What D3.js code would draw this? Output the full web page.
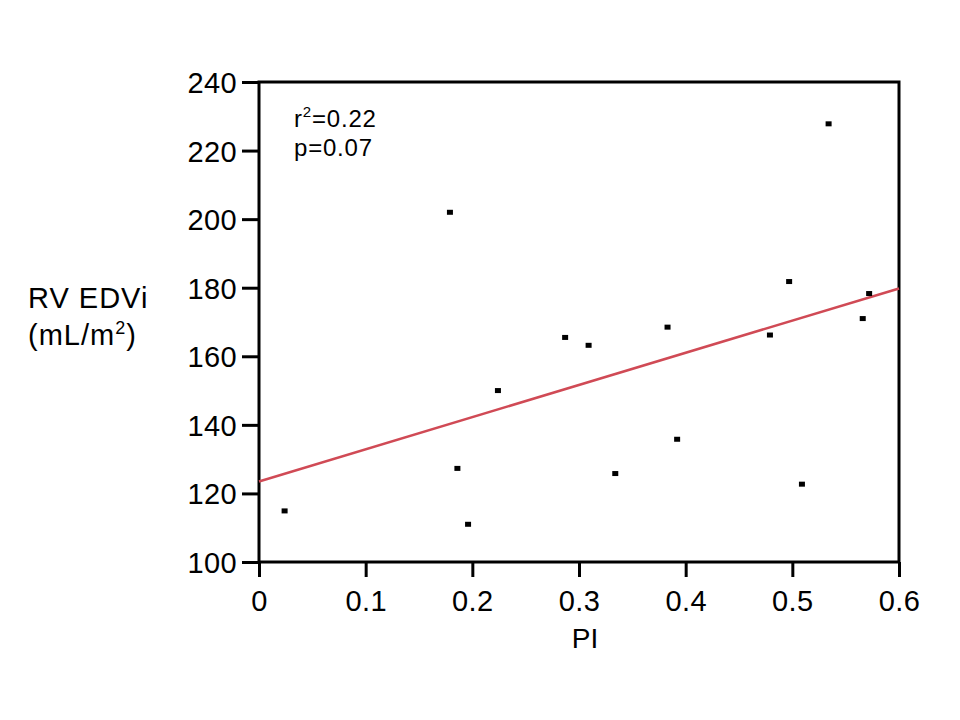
<!DOCTYPE html>
<html>
<head>
<meta charset="utf-8">
<script src="https://cdn.jsdelivr.net/npm/d3@7"></script>
<style>
  body { margin: 0; background: #fff; }
  text { font-family: "Liberation Sans", Arial, sans-serif; fill: #000; }
</style>
</head>
<body>
<svg id="chart" width="960" height="720"></svg>
<script>
// data
let piValues = [0.024, 0.179, 0.186, 0.196, 0.224, 0.287, 0.309, 0.334, 0.383, 0.392, 0.479, 0.497, 0.509, 0.534, 0.566, 0.572];
let edviValues = [114.9, 202.0, 127.3, 111.0, 150.0, 165.5, 163.2, 125.8, 168.5, 135.8, 166.2, 181.8, 122.7, 227.8, 171.0, 178.3];
let xTicks = [0, 0.1, 0.2, 0.3, 0.4, 0.5, 0.6];
let yTicks = [100, 120, 140, 160, 180, 200, 220, 240];
let fitIntercept = 123.5;
let fitSlope = 93.8;

function drawChart() {
    let svg = d3.select("#chart");
    svg.selectAll("*").remove();

    let left = 259, right = 899, top = 82, bottom = 562;

    let x = d3.scaleLinear().domain([0, 0.6]).range([left, right]);
    let y = d3.scaleLinear().domain([100, 240]).range([bottom, top]);

    // frame
    svg.append("rect")
        .attr("x", left)
        .attr("y", top)
        .attr("width", right - left)
        .attr("height", bottom - top)
        .attr("fill", "none")
        .attr("stroke", "#000")
        .attr("stroke-width", 3);

    // axes
    let xAxis = svg.append("g")
        .attr("transform", `translate(0, ${bottom})`)
        .call(d3.axisBottom(x).tickValues(xTicks).tickSize(15).tickPadding(13).tickFormat(d => d === 0 ? "0" : d3.format(".1f")(d)));
    let yAxis = svg.append("g")
        .attr("transform", `translate(${left}, 0)`)
        .call(d3.axisLeft(y).tickValues(yTicks).tickSize(17).tickPadding(5));

    [xAxis, yAxis].forEach(a => {
        a.select(".domain").remove();
        a.selectAll("line").attr("stroke", "#000").attr("stroke-width", 3);
        a.selectAll("text").style("font-size", "29px").style("letter-spacing", "0.4px").attr("fill", "#000");
    });
    yAxis.selectAll("text").attr("dy", "0.36em");

    // regression line
    svg.append("line")
        .attr("x1", x(0))
        .attr("y1", y(fitIntercept))
        .attr("x2", x(0.6))
        .attr("y2", y(fitIntercept + fitSlope * 0.6))
        .attr("stroke", "#d04a55")
        .attr("stroke-width", 2.5);

    // points
    let pts = piValues.map((v, i) => ({ pi: v, edvi: edviValues[i] }));
    svg.selectAll(".pt")
        .data(pts)
        .enter()
        .append("rect")
        .attr("class", "pt")
        .attr("x", d => x(d.pi) - 3)
        .attr("y", d => y(d.edvi) - 2.5)
        .attr("width", 6)
        .attr("height", 5)
        .attr("fill", "#000");

    // annotation
    let ann = svg.append("text").attr("x", 294).attr("y", 127)
        .style("font-size", "24px").style("letter-spacing", "0.8px");
    ann.append("tspan").text("r");
    ann.append("tspan").style("font-size", "15px").attr("dy", -10).text("2");
    ann.append("tspan").attr("dy", 10).text("=0.22");
    svg.append("text").attr("x", 294).attr("y", 156)
        .style("font-size", "24px").style("letter-spacing", "0.8px").text("p=0.07");

    // axis titles
    svg.append("text")
        .attr("x", 585)
        .attr("y", 648)
        .attr("text-anchor", "middle")
        .style("font-size", "28px")
        .text("PI");

    svg.append("text").attr("x", 28).attr("y", 308)
        .style("font-size", "29px").style("letter-spacing", "1px").text("RV EDVi");
    let unit = svg.append("text").attr("x", 28).attr("y", 345)
        .style("font-size", "29px").style("letter-spacing", "1px");
    unit.append("tspan").text("(mL/m");
    unit.append("tspan").style("font-size", "18px").attr("dy", -11).text("2");
    unit.append("tspan").attr("dy", 11).text(")");
}

drawChart();
</script>
</body>
</html>
